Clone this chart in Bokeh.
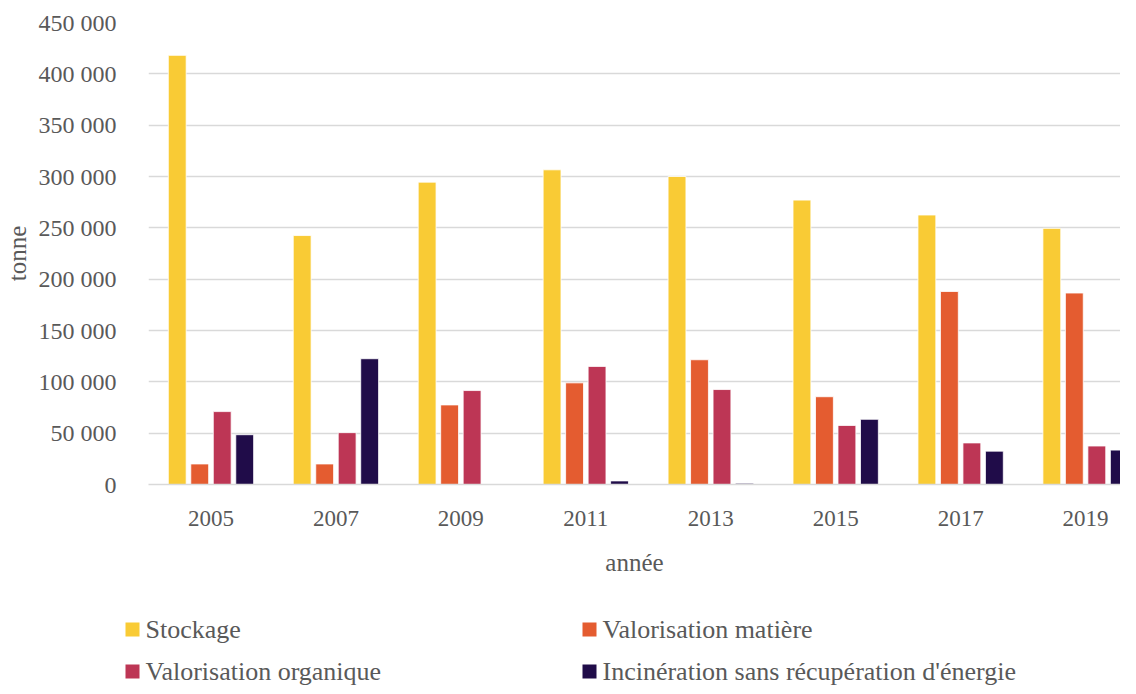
from bokeh.plotting import figure
from bokeh.layouts import column
from bokeh.models import ColumnDataSource, Range1d, FixedTicker
from bokeh.core.properties import value
from bokeh.transform import dodge
from bokeh.embed import file_html
from bokeh.resources import INLINE

# ---- data ----
years = ["2005", "2007", "2009", "2011", "2013", "2015", "2017", "2019"]
stockage = [418000, 242500, 294500, 306500, 300000, 277000, 262500, 249500]
valorisation_matiere = [20000, 20000, 77500, 99000, 121500, 85500, 188000, 186500]
valorisation_organique = [71000, 50500, 91500, 115000, 92500, 57500, 40500, 37500]
incineration = [48500, 122500, 0, 3500, 1200, 63500, 32500, 33500]

series_names = ["Stockage", "Valorisation matière", "Valorisation organique",
                "Incinération sans récupération d'énergie"]
series_colors = ["#F9CB35", "#E45C30", "#BD3655", "#200C49"]
y_ticks = [0, 50000, 100000, 150000, 200000, 250000, 300000, 350000, 400000, 450000]
y_tick_labels = ["0", "50 000", "100 000", "150 000", "200 000", "250 000",
                 "300 000", "350 000", "400 000", "450 000"]

FONT = "Liberation Serif"
TXT = "#595959"
GRID = "#D9D9D9"
W = 1120
H_MAIN = 596
H_LEG = 90
LEFT = 146

src = ColumnDataSource(dict(
    x=list(range(len(years))),
    s0=stockage, s1=valorisation_matiere, s2=valorisation_organique, s3=incineration,
))

p = figure(width=W, height=H_MAIN, output_backend="svg", toolbar_location=None,
           x_range=Range1d(-0.5, -0.5 + (W - LEFT) / 125.2), y_range=Range1d(0, 450000),
           min_border_left=LEFT, min_border_right=0, min_border_top=22,
           min_border_bottom=H_MAIN - 484)
p.outline_line_color = None
p.background_fill_color = "white"
p.border_fill_color = "white"
p.frame_align = False

offsets = [-0.27, -0.09, 0.09, 0.27]
for i, col in enumerate(series_colors):
    p.vbar(x=dodge("x", offsets[i], range=p.x_range), top="s%d" % i, width=0.143,
           source=src, fill_color=col, line_color="white", line_width=0.8)

# axes
p.xaxis.ticker = FixedTicker(ticks=list(range(len(years))))
p.xaxis.major_label_overrides = {i: y for i, y in enumerate(years)}
p.yaxis.ticker = FixedTicker(ticks=y_ticks)
p.yaxis.major_label_overrides = {t: l for t, l in zip(y_ticks, y_tick_labels)}

for ax in (p.xaxis[0], p.yaxis[0]):
    ax.major_tick_line_color = None
    ax.minor_tick_line_color = None
    ax.major_label_text_font = FONT
    ax.major_label_text_color = TXT
    ax.axis_label_text_font = FONT
    ax.axis_label_text_color = TXT
    ax.axis_label_text_font_style = "normal"
    ax.axis_label_text_font_size = "25px"

p.xaxis.axis_line_color = GRID
p.xaxis.axis_line_width = 1.3
p.yaxis.axis_line_color = None
p.xaxis.major_label_text_font_size = "23px"
p.yaxis.major_label_text_font_size = "24px"
p.xaxis.major_label_standoff = 20
p.yaxis.major_label_standoff = 26
p.xaxis.axis_label = "année"
p.yaxis.axis_label = "tonne"
p.xaxis.axis_label_standoff = 20
p.yaxis.axis_label_standoff = 5

p.xgrid.grid_line_color = None
p.ygrid.grid_line_color = GRID
p.ygrid.grid_line_width = 1.3

# ---- legend strip: 2 columns x 2 rows, pixel-unit ranges ----
lg = figure(width=W, height=H_LEG, output_backend="svg", toolbar_location=None,
            x_range=Range1d(0, W), y_range=Range1d(0, H_LEG),
            x_axis_type=None, y_axis_type=None, min_border=0)
lg.outline_line_color = None
lg.grid.grid_line_color = None
lg.frame_align = False

col_x = [132, 589]      # swatch centres (px)
row_y = [57, 15]        # row centres (px, from bottom of strip)
leg = ColumnDataSource(dict(
    sx=[col_x[i % 2] for i in range(len(series_names))],
    tx=[col_x[i % 2] + 13 for i in range(len(series_names))],
    y=[row_y[i // 2] for i in range(len(series_names))],
    label=series_names,
    color=series_colors,
))
lg.rect(x="sx", y="y", width=14, height=14, width_units="screen", height_units="screen",
        fill_color="color", line_color=None, source=leg)
lg.text(x="tx", y="y", text="label", source=leg, text_baseline="middle",
        text_align="left", text_font=value(FONT), text_font_size="26px", text_color=TXT)

layout = column(p, lg, spacing=0)
open("out.html", "w").write(file_html(layout, INLINE))
